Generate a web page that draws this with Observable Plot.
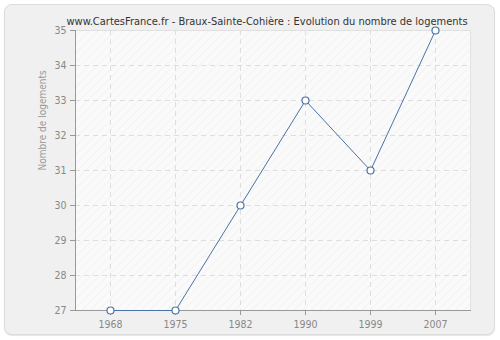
<!DOCTYPE html>
<html><head><meta charset="utf-8">
<script src="https://cdn.jsdelivr.net/npm/d3@7"></script>
<script src="https://cdn.jsdelivr.net/npm/@observablehq/plot@0.6"></script>
<style>
body{margin:0;background:#fff;}
#wrap{position:relative;width:500px;height:340px;}
#bg{position:absolute;left:4px;top:4px;width:491px;height:331px;border:1px solid #dcdcdc;border-radius:8px;background:#f0f0f0;box-sizing:border-box;box-shadow:0 1px 1px #e6e6e6;}
#chart{position:absolute;left:0;top:0;}
</style></head><body>
<div id="wrap"><div id="bg"></div><div id="chart"></div></div>
<script>
const years = ["1968","1975","1982","1990","1999","2007"];
const values = [27,27,30,33,31,35];
const yTicks = [27,28,29,30,31,32,33,34,35];
const title = "www.CartesFrance.fr - Braux-Sainte-Cohière : Evolution du nombre de logements";
const yLabel = "Nombre de logements";
const data = years.map((y,i)=>({year:y, value:values[i]}));

const lineColor = "#4a72a6";
const font = "'DejaVu Sans Condensed', 'DejaVu Sans', sans-serif";
const plot = Plot.plot({
  width:500, height:340,
  marginLeft:75, marginRight:30, marginTop:30, marginBottom:30,
  style:{background:"transparent", fontFamily:font, fontSize:"10.5px", color:"#888", overflow:"visible", fontStretch:"condensed"},
  x:{type:"point", domain:years, padding:0.5, label:null},
  y:{domain:[27,35], ticks:yTicks, label:null},
  marks:[
    Plot.frame({fill:"#fafafa"}),
    Plot.frame({fill:"url(#hatch)", stroke:"#e2e2e2"}),
    Plot.gridX(years, {stroke:"#dedede", strokeOpacity:1, strokeDasharray:"5,4"}),
    Plot.gridY(yTicks.slice(1), {stroke:"#dedede", strokeOpacity:1, strokeDasharray:"5,4"}),
    Plot.axisX({tickSize:5, tickPadding:5, stroke:"#999", color:"#888", label:null}),
    Plot.axisY(yTicks, {tickSize:5, tickPadding:4, stroke:"#999", color:"#888", label:null}),
    Plot.frame({anchor:"bottom", stroke:"#999"}),
    Plot.frame({anchor:"left", stroke:"#999"}),
    Plot.line(data, {x:"year", y:"value", stroke:lineColor, strokeWidth:1}),
    Plot.dot(data, {x:"year", y:"value", r:3.5, fill:"white", stroke:lineColor, strokeWidth:1.2}),
    Plot.text([title], {frameAnchor:"top", dy:-13, dx:-6, fontSize:11, fill:"#333"}),
    Plot.text([yLabel], {frameAnchor:"left", dx:-33, rotate:-90, fontSize:10, fill:"#999"})
  ]
});
const ns = "http://www.w3.org/2000/svg";
const defs = document.createElementNS(ns, "defs");
defs.innerHTML = '<pattern id="hatch" patternUnits="userSpaceOnUse" width="6" height="6" patternTransform="rotate(45)"><line x1="0" y1="0" x2="0" y2="6" stroke="#ececec" stroke-width="1"/></pattern>';
plot.insertBefore(defs, plot.firstChild);
document.getElementById("chart").appendChild(plot);
</script>
</body></html>
